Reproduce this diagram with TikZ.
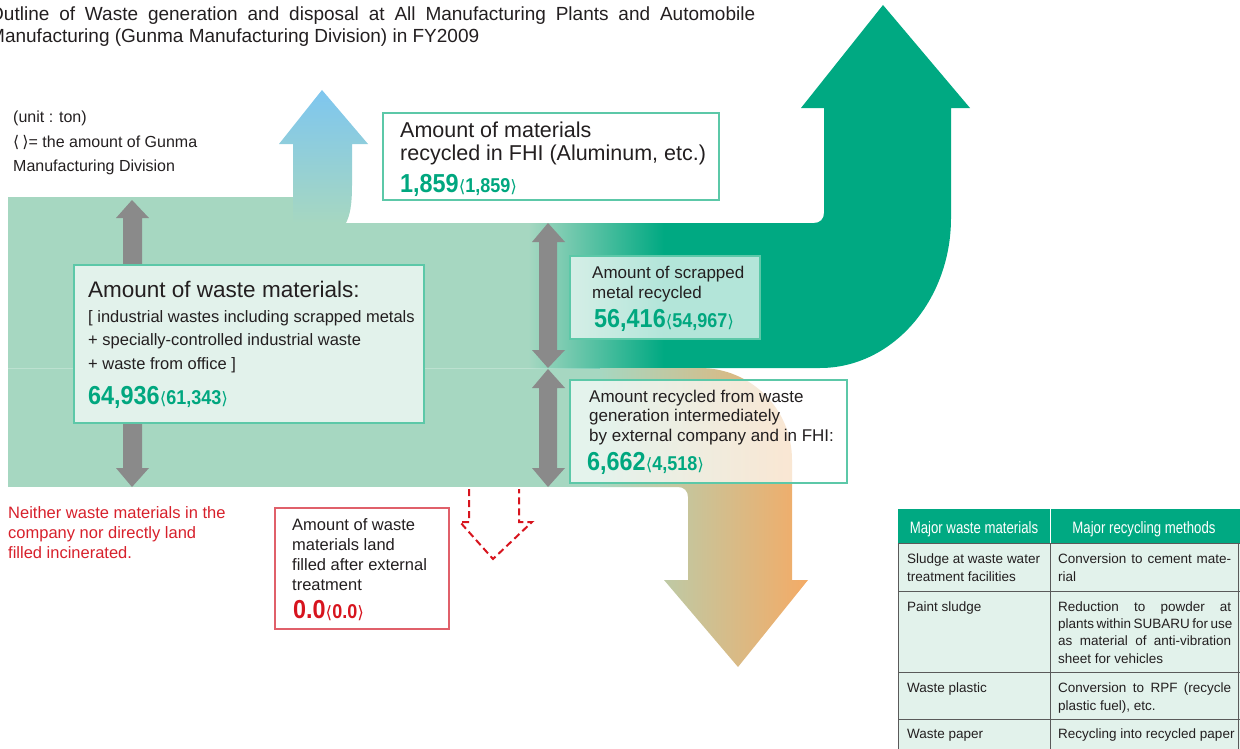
\documentclass[tikz,border=0pt]{standalone}
\usepackage{fontspec}
\setmainfont{Liberation Sans}
\newfontfamily\numfont[FakeStretch=0.9]{Liberation Sans}
\newfontfamily\hdrfont[FakeStretch=0.8]{Liberation Sans}
\newfontfamily\brkfont{DejaVu Sans}
\definecolor{bandgreen}{HTML}{A6D7C1}
\definecolor{darkgreen}{HTML}{00A982}
\definecolor{numgreen}{HTML}{00A77F}
\definecolor{boxborder}{HTML}{5CC8A8}
\definecolor{boxfill}{HTML}{E2F2EB}
\definecolor{arrowgray}{HTML}{8A8A8A}
\definecolor{skyblue}{HTML}{7EC6EF}
\definecolor{orangeF}{HTML}{F4AB66}
\definecolor{khaki}{HTML}{D3C594}
\definecolor{redtext}{HTML}{D7202B}
\definecolor{rednum}{HTML}{D7141E}
\definecolor{redbox}{HTML}{E0606A}
\definecolor{textgray}{HTML}{231F20}
\definecolor{tableline}{HTML}{5A5A5A}
\newcommand{\numpair}[2]{{\numfont\bfseries\fontsize{26bp}{28bp}\selectfont #1}{\brkfont\fontsize{17bp}{20bp}\selectfont ⟨}{\numfont\bfseries\fontsize{20bp}{22bp}\selectfont #2}{\brkfont\fontsize{17bp}{20bp}\selectfont ⟩}}
\newcommand{\jline}[2]{\makebox[#1][s]{#2}}
\begin{document}
\begin{tikzpicture}[x=1bp,y=-1bp,
  txt/.style={anchor=base west, inner sep=0pt, align=left, text=textgray},
  flowbox/.style={anchor=north west, inner sep=0pt, draw=boxborder, line width=1.5bp},
  grayarrow/.style={fill=arrowgray},
  cell/.style={anchor=base west, inner sep=0pt, align=left, text=textgray, font=\fontsize{13.5bp}{18bp}\selectfont},
  hdr/.style={anchor=base, inner sep=0pt, text=white, font=\hdrfont\fontsize{16.5bp}{18bp}\selectfont},
  tline/.style={draw=tableline, line width=0.8bp}]
\useasboundingbox (0,0) rectangle (1240,749);

% ---------- flows ----------
\fill[bandgreen] (8,197) rectangle (300,487);
\fill[bandgreen] (299,223) rectangle (610,487);
% blue arrow
\shade[top color=skyblue, bottom color=bandgreen]
  (293,144) -- (279,144) -- (322,90) -- (368,144) -- (352,144) -- (352,185)
  .. controls (352,205) and (350,215) .. (346,223) -- (293,223) -- cycle;
% green arrow
\fill[darkgreen] (600,223) -- (814,223) .. controls (820,223) and (824,219) .. (824,213)
  -- (824,108) -- (801,108) -- (883,5) -- (970,108) -- (951,108) -- (951,218)
  .. controls (951,301) and (892,368) .. (820,368) -- (600,368) -- cycle;
\shade[left color=bandgreen, right color=darkgreen] (528,223) rectangle (664,368);
% orange arrow
\shade[left color=bandgreen, middle color=khaki, right color=orangeF]
  (600,368) -- (700,368) .. controls (751,368) and (792,409) .. (792,460)
  -- (792,580) -- (808,580) -- (738,667) -- (664,580) -- (688,580) -- (688,497)
  .. controls (688,491) and (684,487) .. (678,487) -- (600,487) -- cycle;
\draw[line width=1bp, color=white, opacity=0.25] (8,368) -- (600,368);

% gray double arrows
\fill[grayarrow] (132,200) -- (149,218) -- (142,218) -- (142,468) -- (149,468) -- (132,487)
  -- (116,468) -- (123,468) -- (123,218) -- (116,218) -- cycle;
\fill[grayarrow] (548,223) -- (565,242) -- (557,242) -- (557,350) -- (565,350) -- (548,368)
  -- (532,350) -- (539,350) -- (539,242) -- (532,242) -- cycle;
\fill[grayarrow] (548,369) -- (565,388) -- (557,388) -- (557,468) -- (565,468) -- (548,487)
  -- (532,468) -- (539,468) -- (539,388) -- (532,388) -- cycle;

% red dashed arrow
\draw[rednum, line width=2bp, dash pattern=on 7bp off 4bp]
  (469,489) -- (469,522) -- (460,522) -- (493,559) -- (532,522) -- (519,522) -- (519,489);

% ---------- boxes ----------
\node[flowbox, fill=white, minimum width=336bp, minimum height=87bp] (boxA) at (382,112) {};
\node[flowbox, fill=boxfill, minimum width=350bp, minimum height=158bp] (boxB) at (73,264) {};
\node[flowbox, fill=white, fill opacity=0.7, minimum width=190bp, minimum height=83bp] (boxC) at (569,255) {};
\node[flowbox, fill=white, fill opacity=0.7, minimum width=277bp, minimum height=103bp] (boxD) at (569,379) {};
\node[anchor=north west, inner sep=0pt, draw=redbox, line width=2bp, fill=white, minimum width=174bp, minimum height=121bp] (boxE) at (274,507) {};

% ---------- texts (multi-line nodes: base = last line) ----------
\node[txt, font=\fontsize{19bp}{22bp}\selectfont] (title1) at (-11,21)
  {\jline{766bp}{Outline of Waste generation and disposal at All Manufacturing Plants and Automobile}};
\node[txt, font=\fontsize{19bp}{22bp}\selectfont] (title2) at (-11,43)
  {Manufacturing (Gunma Manufacturing Division) in FY2009};

\node[txt, font=\fontsize{16bp}{24bp}\selectfont] (unit) at (13,171)
  {(unit : ton)\\{\brkfont ⟨\hspace{3bp}⟩}= the amount of Gunma\\Manufacturing Division};

\node[txt, font=\fontsize{21.5bp}{23bp}\selectfont] (tA) at (400,160)
  {Amount of materials\\recycled in FHI (Aluminum, etc.)};
\node[txt, text=numgreen] (nA) at (400,192) {\numpair{1,859}{1,859}};

\node[txt, font=\fontsize{22.5bp}{25bp}\selectfont] (tB) at (88,297) {Amount of waste materials:};
\node[txt, font=\fontsize{16.5bp}{23.5bp}\selectfont] (tB2) at (88,369)
  {[ industrial wastes including scrapped metals\\+ specially-controlled industrial waste\\+ waste from office ]};
\node[txt, text=numgreen] (nB) at (88,404) {\numpair{64,936}{61,343}};

\node[txt, font=\fontsize{17bp}{20bp}\selectfont] (tC) at (592,298)
  {Amount of scrapped\\metal recycled};
\node[txt, text=numgreen] (nC) at (594,327) {\numpair{56,416}{54,967}};

\node[txt, font=\fontsize{17bp}{19.5bp}\selectfont] (tD) at (589,441)
  {Amount recycled from waste\\generation intermediately\\by external company and in FHI:};
\node[txt, text=numgreen] (nD) at (587,470) {\numpair{6,662}{4,518}};

\node[txt, font=\fontsize{16.5bp}{20bp}\selectfont] (tE) at (292,590)
  {Amount of waste\\materials land\\filled after external\\treatment};
\node[txt, text=rednum] (nE) at (293,618) {\numpair{0.0}{0.0}};

\node[txt, text=redtext, font=\fontsize{16.5bp}{20bp}\selectfont] (note) at (8,558)
  {Neither waste materials in the\\company nor directly land\\filled incinerated.};

% ---------- table ----------
\fill[darkgreen] (898,509) rectangle (1240,543);
\fill[boxfill] (898,543) rectangle (1240,749);
\draw[tline] (898,543) -- (1240,543);
\draw[tline] (898,591) -- (1240,591);
\draw[tline] (898,672) -- (1240,672);
\draw[tline] (898,719) -- (1240,719);
\draw[tline] (898,543) -- (898,749);
\draw[tline] (1238.6,543) -- (1238.6,749);
\draw[tline] (1050,543) -- (1050,749);
\draw[white, line width=0.8bp] (1050,509) -- (1050,543);
\node[hdr] (h1) at (974,533) {Major waste materials};
\node[hdr] (h2) at (1144,533) {Major recycling methods};

\node[cell] (r1a) at (907,581) {Sludge at waste water\\treatment facilities};
\node[cell] (r1b) at (1058,581) {\jline{173bp}{Conversion to cement mate-}\\rial};
\node[cell] (r2a) at (907,611) {Paint sludge};
\node[cell, font=\fontsize{13.5bp}{17.3bp}\selectfont] (r2b) at (1058,663) {\jline{173bp}{Reduction to powder at}\\\jline{173bp}{plants within SUBARU for use}\\\jline{173bp}{as material of anti-vibration}\\sheet for vehicles};
\node[cell] (r3a) at (907,692) {Waste plastic};
\node[cell] (r3b) at (1058,710) {\jline{173bp}{Conversion to RPF (recycle}\\plastic fuel), etc.};
\node[cell] (r4a) at (907,738) {Waste paper};
\node[cell] (r4b) at (1058,738) {Recycling into recycled paper};
\end{tikzpicture}
\end{document}
